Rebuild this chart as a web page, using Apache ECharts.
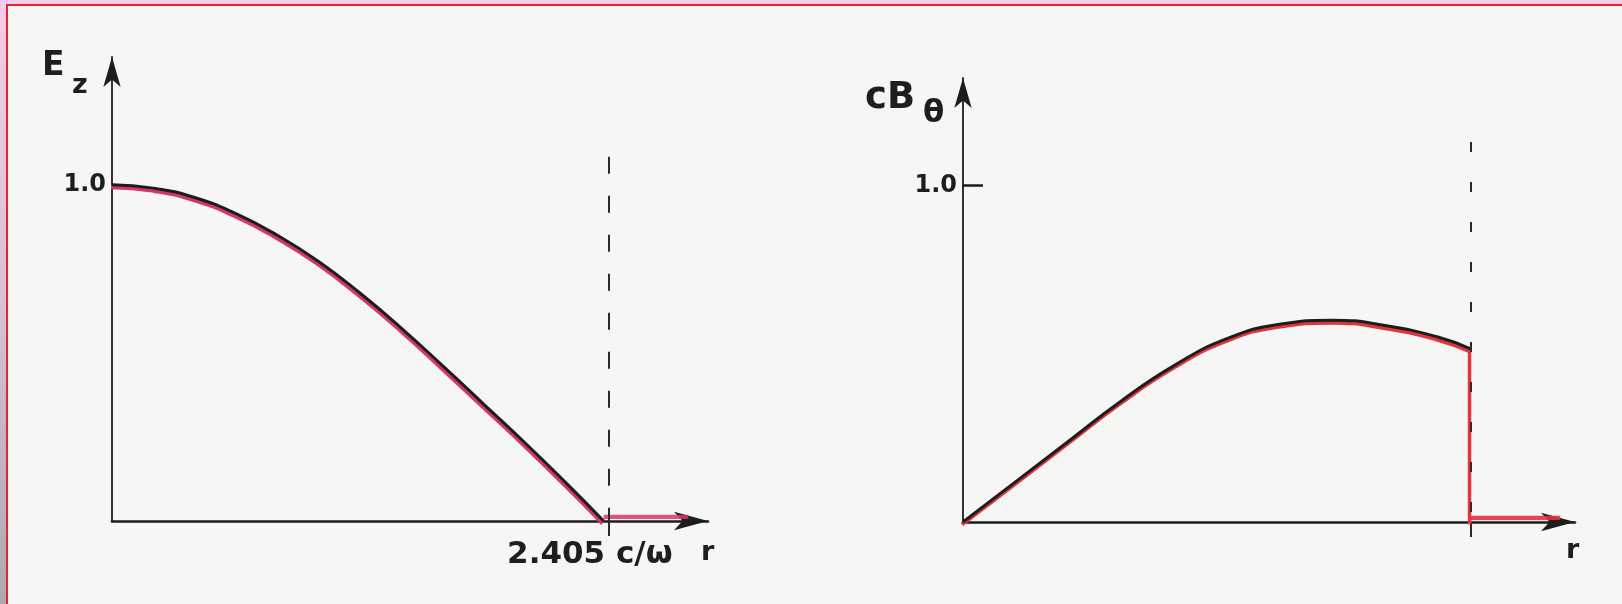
<!DOCTYPE html>
<html>
<head>
<meta charset="utf-8">
<script src="https://cdn.jsdelivr.net/npm/echarts@6/dist/echarts.min.js"></script>
<style>
  html, body { margin: 0; padding: 0; background: #f6f6f4; }
  #chart { width: 1622px; height: 604px; }
</style>
</head>
<body>
<div id="chart"></div>
<script>
// Axial electric field E_z across the radius r (units of c/ω)
const ezRadius = [0, 0.2, 0.4, 0.6, 0.8, 1.0, 1.2, 1.4, 1.6, 1.8, 2.0, 2.2, 2.38];
const ezValues = [1.0, 0.99, 0.962, 0.914, 0.85, 0.772, 0.678, 0.574, 0.462, 0.347, 0.232, 0.112, 0];
const ezTailRadius = [2.38, 2.79];
const ezTailValues = [0, 0];

// Azimuthal magnetic field cB_θ across the radius
const cbRadius = [0, 0.25, 0.5, 0.75, 1.0, 1.25, 1.5, 1.75, 2.0, 2.25, 2.405];
const cbValues = [0, 0.12, 0.24, 0.36, 0.465, 0.545, 0.588, 0.6, 0.584, 0.55, 0.515];
const cbDropRadius = [2.405, 2.405];
const cbDropValues = [0.515, 0];
const cbTailRadius = [2.405, 2.83];
const cbTailValues = [0, 0];

// Boundary radius and tick labels
const cutoffRadius = 2.405;
const cutoffLabel = '2.405 c/ω';
const yTickValues = [1.0];

const pairs = (xs, ys) => xs.map((x, i) => [x, ys[i]]);

const INK = '#1d1d1d';
const FONT = '"DejaVu Sans", sans-serif';

// Two panels; each has a base layer (axes + ink curve), an offset layer for the
// coloured trace under the curve, and a slightly raised layer for the zero trace.
const panels = [
  { left: 112, top: 57, width: 596, height: 464, xMax: 2.885, yMax: 1.38, showCutoffLabel: true,
    yTick: false, dash: [17, 22], markTop: 1.083, trace: '#d4386a' },
  { left: 963, top: 78, width: 612, height: 444, xMax: 2.90, yMax: 1.32, showCutoffLabel: false,
    yTick: true, dash: [10, 30], markTop: 1.13, trace: '#e0343f' }
];
const layers = [ { dx: 0, dy: 0 }, { dx: -1, dy: 2.5 }, { dx: 0, dy: -4 } ];

const grids = [], xAxes = [], yAxes = [];
panels.forEach(p => {
  layers.forEach((l, li) => {
    grids.push({ left: p.left + l.dx, top: p.top + l.dy, width: p.width, height: p.height });
    const base = li === 0;
    xAxes.push({
      type: 'value', gridIndex: grids.length - 1, min: 0, max: p.xMax, show: base,
      splitLine: { show: false },
      axisTick: {
        show: base, customValues: [cutoffRadius], length: 15,
        lineStyle: { color: '#2a2a2a', width: 2 }
      },
      axisLine: {
        show: base, symbol: ['none', 'arrow'], symbolSize: [14, 34],
        lineStyle: { color: INK, width: 2.6 }
      },
      axisLabel: {
        show: base && p.showCutoffLabel,
        customValues: [cutoffRadius],
        formatter: () => cutoffLabel,
        fontFamily: FONT, fontWeight: 'bold', fontSize: 31, color: '#1e1e1e',
        margin: 18, padding: [0, 38, 0, 0]
      }
    });
    yAxes.push({
      type: 'value', gridIndex: grids.length - 1, min: 0, max: p.yMax, show: base,
      splitLine: { show: false },
      axisLine: {
        show: base, symbol: ['none', 'arrow'], symbolSize: [13, 30],
        lineStyle: { color: INK, width: 1.8 }
      },
      axisTick: {
        show: base && p.yTick, customValues: yTickValues, inside: true, length: 20,
        lineStyle: { color: INK, width: 2.5 }
      },
      axisLabel: {
        show: base, customValues: yTickValues,
        formatter: v => Number(v).toFixed(1),
        fontFamily: FONT, fontWeight: 'bold', fontSize: 24, color: '#1e1e1e', margin: 6
      }
    });
  });
});

function cutoffMark(p) {
  return {
    silent: true, symbol: ['none', 'none'], animation: false,
    label: { show: false },
    lineStyle: { color: '#2a2a2a', width: 2, type: p.dash },
    data: [[ { coord: [cutoffRadius, p.markTop] }, { coord: [cutoffRadius, 0] } ]]
  };
}

const ink = { color: INK, width: 3 };
const curve = { smooth: 0.5, showSymbol: false };
const series = [
  // E_z panel
  { type: 'line', xAxisIndex: 0, yAxisIndex: 0, data: pairs(ezRadius, ezValues), ...curve,
    lineStyle: ink, z: 4, markLine: cutoffMark(panels[0]) },
  { type: 'line', xAxisIndex: 1, yAxisIndex: 1, data: pairs(ezRadius, ezValues), ...curve,
    lineStyle: { color: panels[0].trace, width: 4 }, z: 2 },
  { type: 'line', xAxisIndex: 2, yAxisIndex: 2, data: pairs(ezTailRadius, ezTailValues),
    showSymbol: false, lineStyle: { color: panels[0].trace, width: 4.5, opacity: 0.85 }, z: 2 },
  // cB_θ panel
  { type: 'line', xAxisIndex: 3, yAxisIndex: 3, data: pairs(cbRadius, cbValues), ...curve,
    lineStyle: ink, z: 4, markLine: cutoffMark(panels[1]) },
  { type: 'line', xAxisIndex: 4, yAxisIndex: 4, data: pairs(cbRadius, cbValues), ...curve,
    lineStyle: { color: panels[1].trace, width: 4 }, z: 2 },
  { type: 'line', xAxisIndex: 4, yAxisIndex: 4, data: pairs(cbDropRadius, cbDropValues),
    showSymbol: false, lineStyle: { color: panels[1].trace, width: 3.5 }, z: 2 },
  { type: 'line', xAxisIndex: 5, yAxisIndex: 5, data: pairs(cbTailRadius, cbTailValues),
    showSymbol: false, lineStyle: { color: panels[1].trace, width: 4.5, opacity: 0.9 }, z: 2 }
];

const txt = (text, x, y, size) => ({
  type: 'text', x, y, silent: true, z: 10,
  style: { text, fill: '#1e1e1e', font: `bold ${size}px ${FONT}`, verticalAlign: 'middle' }
});

const graphic = [
  // page edges
  { type: 'rect', shape: { x: 0, y: 0, width: 1622, height: 4 }, style: { fill: '#f6cde8' }, silent: true },
  { type: 'rect', shape: { x: 0, y: 0, width: 6, height: 604 }, silent: true,
    style: { fill: { type: 'linear', x: 0, y: 0, x2: 0, y2: 1,
      colorStops: [ { offset: 0, color: '#f3cde8' }, { offset: 0.5, color: '#d8c0d4' }, { offset: 1, color: '#aea8b0' } ] } } },
  { type: 'rect', shape: { x: 6, y: 4, width: 1616, height: 2 }, style: { fill: '#e8232d' }, silent: true },
  { type: 'rect', shape: { x: 6, y: 4, width: 2, height: 600 }, style: { fill: '#e8232d' }, silent: true },
  // axis titles
  txt('E', 42, 66, 33),
  txt('z', 72, 86, 27),
  txt('r', 701, 553, 27),
  txt('cB', 865, 98, 37),
  txt('θ', 923, 114, 31),
  txt('r', 1566, 551, 27)
];

const chart = echarts.init(document.getElementById('chart'), null, { renderer: 'canvas' });
chart.setOption({
  backgroundColor: '#f6f6f4',
  animation: false,
  grid: grids,
  xAxis: xAxes,
  yAxis: yAxes,
  series,
  graphic
});
</script>
</body>
</html>
